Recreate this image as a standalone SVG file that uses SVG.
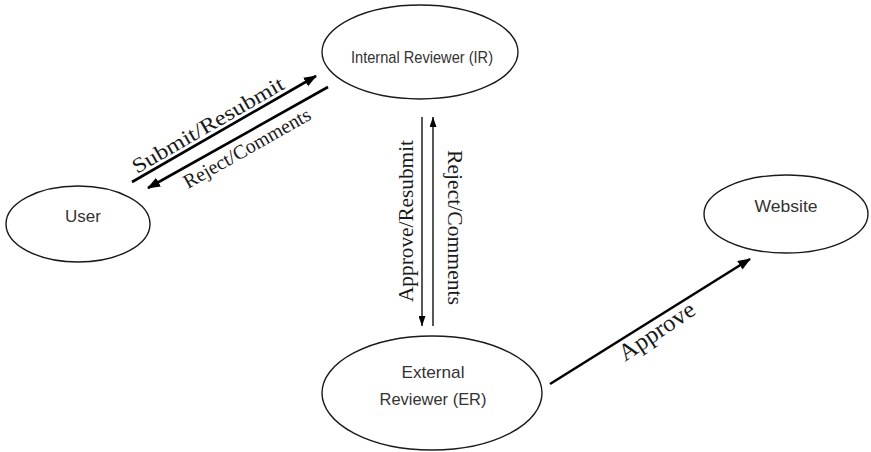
<svg xmlns="http://www.w3.org/2000/svg" width="871" height="452" viewBox="0 0 871 452">
<style>
.node{fill:#ffffff;stroke:#1a1a1a;stroke-width:1.4}
.nt{font-family:"Liberation Sans",Arial,sans-serif;font-size:17px;fill:#333333;text-anchor:middle}
.el{font-family:"Liberation Serif","Times New Roman",serif;fill:#1a1a1a}
.thick{stroke:#000;stroke-width:2.6;fill:none}
.thin{stroke:#111;stroke-width:1.4;fill:none}
</style>
<defs>
<marker id="ah" markerUnits="userSpaceOnUse" markerWidth="13" markerHeight="10" refX="12" refY="5" orient="auto">
<path d="M0,0 L13,5 L0,10 z" fill="#000"/>
</marker>
<marker id="ahs" markerUnits="userSpaceOnUse" markerWidth="10" markerHeight="7" refX="10" refY="3.5" orient="auto">
<path d="M0,0 L10,3.5 L0,7 z" fill="#000"/>
</marker>
</defs>
<rect width="871" height="452" fill="#ffffff"/>
<g id="connectors">
<line class="thick" x1="132" y1="182" x2="316" y2="76" marker-end="url(#ah)"/>
<line class="thick" x1="328" y1="87" x2="148" y2="188" marker-end="url(#ah)"/>
<line class="thin" x1="422" y1="117" x2="422" y2="326" marker-end="url(#ahs)"/>
<line class="thin" x1="433" y1="326" x2="433" y2="117" marker-end="url(#ahs)"/>
<line class="thick" x1="550" y1="384" x2="750" y2="259" marker-end="url(#ah)"/>
<text class="el" font-size="21" x="137" y="174" transform="rotate(-30 137 174)" textLength="172" lengthAdjust="spacingAndGlyphs">Submit/Resubmit</text>
<text class="el" font-size="20" x="188" y="189" transform="rotate(-29.5 188 189)" textLength="143" lengthAdjust="spacingAndGlyphs">Reject/Comments</text>
<text class="el" font-size="21" x="0" y="0" transform="translate(413 302) rotate(-90)" textLength="162" lengthAdjust="spacingAndGlyphs">Approve/Resubmit</text>
<text class="el" font-size="21" x="0" y="0" transform="translate(448 150) rotate(90)" textLength="155" lengthAdjust="spacingAndGlyphs">Reject/Comments</text>
<text class="el" font-size="24" x="625" y="362" transform="rotate(-34 625 362)" textLength="87" lengthAdjust="spacingAndGlyphs">Approve</text>
</g>
<g id="ir">
<ellipse class="node" cx="420" cy="52" rx="98" ry="47"/>
<text class="nt" x="422" y="63" textLength="142" lengthAdjust="spacingAndGlyphs">Internal Reviewer (IR)</text>
</g>
<g id="user">
<ellipse class="node" cx="78" cy="224" rx="72" ry="38"/>
<text class="nt" x="83" y="222">User</text>
</g>
<g id="website">
<ellipse class="node" cx="786" cy="214" rx="82" ry="39"/>
<text class="nt" x="786" y="212" textLength="63" lengthAdjust="spacingAndGlyphs">Website</text>
</g>
<g id="er">
<ellipse class="node" cx="432" cy="393" rx="110" ry="57"/>
<text class="nt" x="433" y="378" textLength="63" lengthAdjust="spacingAndGlyphs">External</text>
<text class="nt" x="433" y="405" textLength="107" lengthAdjust="spacingAndGlyphs">Reviewer (ER)</text>
</g>
</svg>
